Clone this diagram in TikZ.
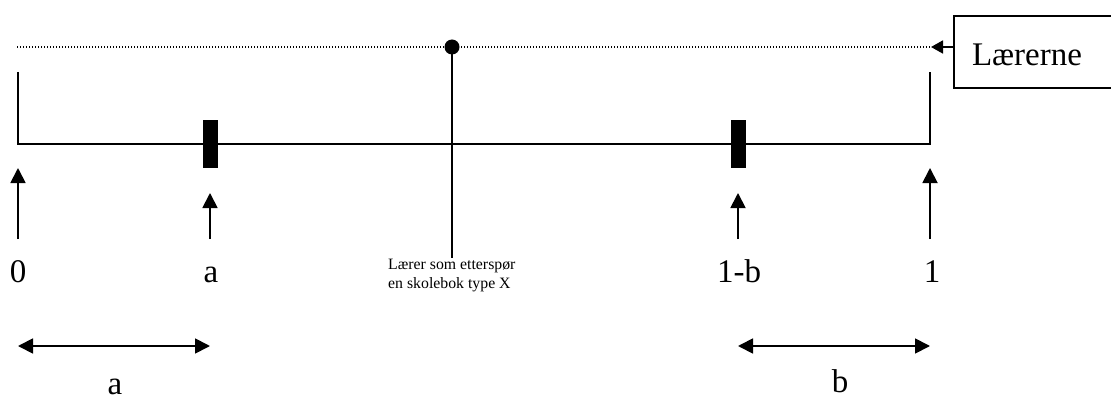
\documentclass[tikz,border=0pt]{standalone}
\usepackage{fontspec}
\setmainfont{Liberation Serif}
\usetikzlibrary{arrows.meta}
\tikzset{
  axisline/.style={line width=1.8pt},
  uparrow/.style={line width=1.8pt,-{Triangle[length=15pt,width=15pt]}},
  dblarrow/.style={line width=1.8pt,{Triangle[length=15pt,width=15pt]}-{Triangle[length=15pt,width=15pt]}},
  bigtxt/.style={font=\fontsize{33}{38}\selectfont,inner sep=0pt,anchor=base},
  smalltxt/.style={font=\fontsize{15.8}{19}\selectfont,inner sep=0pt,align=left,anchor=north west},
  bar/.style={fill=black,draw=none,minimum width=15pt,minimum height=48pt,inner sep=0pt},
}
\begin{document}
\begin{tikzpicture}[x=1pt,y=-1pt]
\useasboundingbox (0,0) rectangle (1111,401);
% box Lærerne
\begin{scope}
\clip (0,0) rectangle (1111,401);
\draw[line width=1.8pt] (1125,16) -- (954,16) -- (954,88) -- (1125,88);
\end{scope}
\node[font=\fontsize{33}{38}\selectfont,inner sep=0pt,anchor=base] (laer) at (1027,66) {Lærerne};
\coordinate (boxl) at (954,47);
\coordinate (dotend) at (931,47);
\coordinate (dotstart) at (17,47);
% dotted line
\draw[line width=1.2pt,dash pattern=on 1.2pt off 1.8pt] (dotstart) -- (dotend);
\draw[line width=1.8pt,-{Triangle[length=12pt,width=13pt]}] (boxl) -- (dotend);
% axis
\coordinate (lt) at (18,72);
\coordinate (lb) at (18,144);
\coordinate (rt) at (930,72);
\coordinate (rb) at (930,144);
\draw[axisline] (lt) -- (lb) -- (rb) -- (rt);
% bars
\node[bar] (bara) at (210.5,144) {};
\node[bar] (barb) at (738,144) {};
% center
\node[circle,fill=black,minimum size=15pt,inner sep=0pt] (dot) at (452,47) {};
\coordinate (cbot) at (452,258);
\draw[axisline] (dot.center) -- (cbot);
\node[smalltxt] (ctxt) at (388,259) {Lærer som etterspør\\en skolebok type X};
% up arrows
\coordinate (t0) at (18,239); \coordinate (h0) at (18,168);
\coordinate (ta) at (210,239); \coordinate (ha) at (210,193);
\coordinate (tb) at (738,239); \coordinate (hb) at (738,193);
\coordinate (t1) at (930,239); \coordinate (h1) at (930,168);
\draw[uparrow] (t0) -- (h0);
\draw[uparrow] (ta) -- (ha);
\draw[uparrow] (tb) -- (hb);
\draw[uparrow] (t1) -- (h1);
% labels
\node[bigtxt] (l0) at (18,282) {0};
\node[bigtxt] (la) at (211,282) {a};
\node[bigtxt] (lb1) at (739,282) {1-b};
\node[bigtxt] (l1) at (932,282) {1};
% double arrows
\coordinate (da1) at (18,346); \coordinate (da2) at (210,346);
\coordinate (db1) at (738,346); \coordinate (db2) at (930,346);
\draw[dblarrow] (da1) -- (da2);
\draw[dblarrow] (db1) -- (db2);
\node[bigtxt] (lowa) at (115,394) {a};
\node[bigtxt] (lowb) at (840,392) {b};
\end{tikzpicture}
\end{document}
